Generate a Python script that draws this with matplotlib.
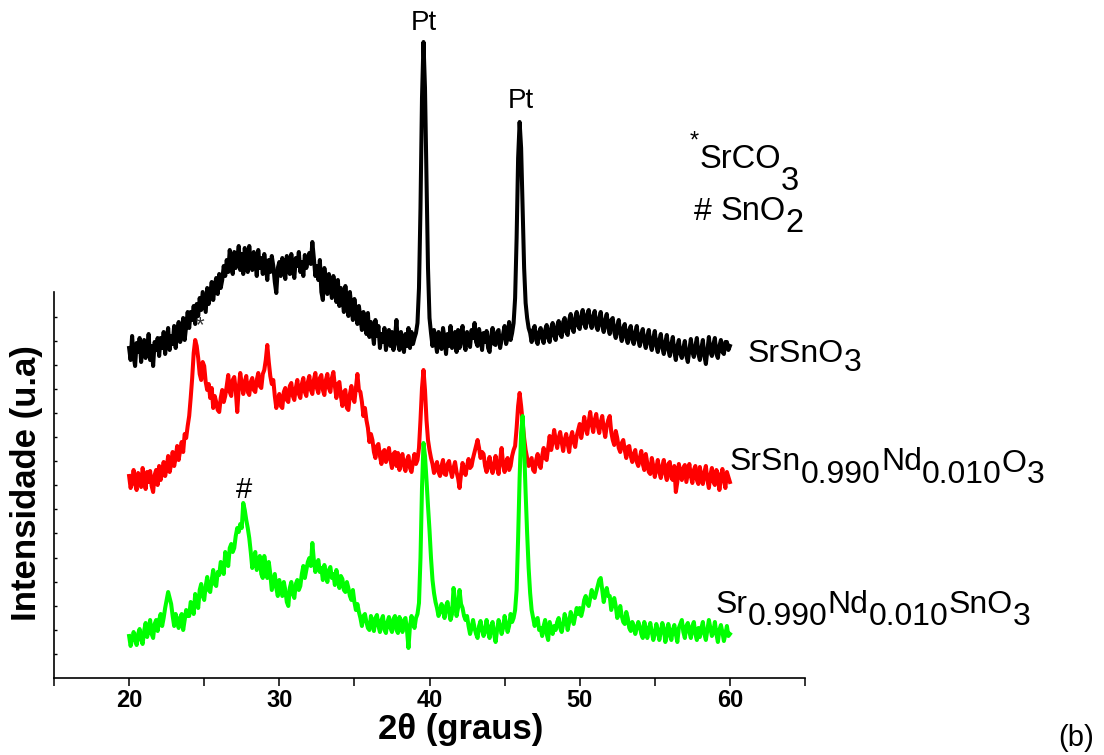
import numpy as np
import matplotlib
matplotlib.use("Agg")
import matplotlib.pyplot as plt

# 2-theta grid (degrees), 0.1 deg step from 20 to 60
two_theta_start = 20.0
two_theta_step = 0.1

# Intensities (a.u., already vertically offset for stacking)
srsno3 = [
    330, 318, 342, 322, 312, 335, 326, 340, 316, 330, 338, 320, 326, 344, 318, 332, 312, 336, 328, 340,
    322, 340, 330, 346, 324, 338, 350, 328, 342, 334, 352, 330, 346, 356, 336, 342, 360, 338, 352, 366,
    350, 366, 358, 372, 354, 374, 362, 380, 368, 386, 376, 366, 390, 374, 384, 396, 378, 392, 400, 384,
    404, 390, 398, 412, 402, 418, 406, 428, 412, 404, 426, 410, 420, 432, 408, 424, 404, 430, 414, 406,
    432, 414, 408, 426, 418, 402, 428, 410, 420, 404, 424, 412, 398, 418, 406, 422, 412, 396, 385, 410,
    416, 402, 420, 410, 399, 422, 414, 404, 424, 408, 400, 420, 412, 426, 406, 416, 402, 423, 410, 418,
    425, 414, 436, 420, 402, 412, 398, 418, 386, 378, 410, 396, 384, 404, 392, 380, 402, 390, 376, 398,
    372, 390, 380, 366, 392, 374, 362, 386, 370, 358, 379, 366, 354, 372, 360, 348, 366, 354, 344, 365,
    341, 356, 346, 334, 358, 342, 352, 330, 344, 336, 350, 328, 342, 348, 332, 346, 328, 340, 358, 334,
    328, 346, 336, 326, 344, 332, 350, 330, 346, 334, 340, 345, 355, 390, 470, 580, 636, 590, 500, 410,
    360, 345, 332, 348, 336, 326, 346, 338, 329, 350, 340, 324, 344, 332, 352, 330, 340, 346, 326, 348,
    330, 344, 352, 334, 328, 346, 338, 331, 348, 340, 355, 336, 332, 349, 340, 328, 345, 336, 347, 330,
    326, 342, 350, 334, 333, 346, 348, 330, 338, 344, 352, 334, 340, 356, 338, 345, 355, 380, 440, 520,
    556, 530, 470, 410, 375, 360, 350, 345, 336, 348, 352, 338, 334, 346, 350, 340, 335, 348, 353, 340,
    336, 350, 355, 342, 338, 352, 357, 344, 341, 356, 360, 346, 343, 358, 364, 350, 346, 360, 366, 352,
    349, 362, 368, 354, 350, 364, 368, 355, 350, 362, 367, 352, 348, 360, 366, 352, 346, 358, 364, 350,
    344, 358, 360, 346, 340, 352, 358, 344, 337, 350, 354, 340, 335, 348, 352, 338, 334, 346, 352, 338,
    332, 344, 349, 336, 330, 342, 348, 334, 328, 340, 347, 332, 326, 338, 344, 330, 324, 336, 343, 328,
    322, 334, 341, 326, 318, 332, 338, 324, 320, 330, 337, 322, 316, 328, 339, 326, 321, 332, 340, 324,
    318, 330, 338, 322, 314, 328, 341, 326, 322, 334, 340, 324, 320, 332, 338, 326, 324, 336, 336, 328,
    332,
]

srsn_nd = [
    202, 190, 196, 208, 194, 188, 205, 199, 191, 210, 200, 189, 206, 196, 207, 192, 186, 203, 208, 193,
    212, 198, 206, 216, 202, 210, 222, 206, 214, 226, 212, 220, 232, 218, 228, 236, 226, 244, 240, 252,
    262, 280, 300, 325, 338, 332, 320, 304, 298, 316, 312, 296, 288, 294, 280, 290, 270, 282, 276, 268,
    266, 280, 288, 276, 282, 292, 303, 286, 282, 298, 301, 288, 266, 290, 305, 294, 284, 296, 302, 286,
    283, 296, 300, 288, 286, 298, 305, 292, 290, 304, 308, 318, 333, 316, 302, 294, 298, 282, 270, 278,
    284, 272, 270, 286, 290, 278, 276, 292, 295, 282, 278, 290, 298, 284, 280, 294, 300, 286, 282, 296,
    302, 288, 284, 298, 305, 290, 285, 300, 303, 288, 283, 298, 304, 290, 286, 300, 306, 292, 280, 294,
    296, 282, 272, 286, 288, 270, 268, 284, 292, 280, 276, 290, 304, 288, 286, 276, 262, 270, 258, 250,
    236, 244, 238, 226, 220, 232, 234, 222, 214, 226, 228, 216, 222, 230, 218, 210, 224, 226, 212, 225,
    208, 220, 224, 212, 207, 218, 222, 210, 206, 216, 224, 214, 218, 230, 258, 290, 308, 288, 258, 238,
    228, 220, 214, 205, 210, 216, 206, 202, 212, 218, 204, 203, 214, 217, 208, 201, 210, 216, 206, 200,
    190, 204, 215, 208, 203, 212, 219, 210, 212, 220, 226, 232, 238, 230, 220, 226, 224, 212, 206, 214,
    221, 210, 205, 214, 222, 210, 204, 218, 230, 214, 206, 216, 220, 208, 212, 222, 228, 232, 250, 272,
    285, 272, 256, 240, 228, 220, 212, 216, 220, 208, 206, 218, 224, 214, 210, 222, 230, 220, 218, 230,
    242, 228, 236, 248, 238, 230, 240, 246, 236, 227, 238, 244, 234, 226, 240, 246, 236, 231, 242, 248,
    254, 240, 248, 261, 252, 244, 256, 266, 254, 246, 258, 264, 252, 245, 256, 262, 250, 241, 252, 258,
    262, 246, 238, 233, 247, 240, 230, 226, 235, 238, 228, 220, 231, 232, 222, 216, 224, 228, 216, 212,
    220, 227, 214, 208, 224, 215, 206, 204, 220, 212, 201, 210, 218, 206, 200, 212, 218, 204, 198, 214,
    216, 200, 198, 212, 186, 196, 214, 206, 198, 210, 213, 196, 205, 214, 202, 195, 208, 212, 198, 194,
    211, 200, 194, 206, 212, 198, 190, 203, 210, 196, 193, 208, 204, 188, 200, 209, 198, 190, 206, 201,
    196,
]

sr_nd_sno3 = [
    42, 32, 38, 46, 40, 33, 44, 49, 38, 34, 47, 55, 41, 48, 58, 44, 40, 54, 58, 47,
    58, 64, 52, 60, 70, 78, 86, 80, 74, 62, 52, 64, 58, 50, 60, 64, 48, 58, 68, 62,
    62, 76, 70, 64, 84, 78, 70, 88, 94, 82, 78, 92, 101, 88, 86, 98, 108, 94, 92, 106,
    103, 116, 110, 104, 126, 118, 112, 130, 134, 126, 130, 142, 150, 146, 154, 150, 175, 168, 158, 150,
    140, 126, 110, 120, 126, 108, 116, 122, 104, 100, 122, 112, 100, 116, 104, 88, 96, 104, 90, 82,
    98, 90, 82, 96, 88, 76, 72, 90, 96, 84, 80, 94, 98, 88, 92, 104, 112, 100, 108, 116,
    120, 112, 135, 118, 106, 114, 118, 106, 110, 98, 113, 104, 96, 108, 111, 100, 104, 93, 108, 100,
    90, 102, 99, 88, 86, 96, 90, 82, 78, 88, 76, 68, 74, 66, 60, 52, 62, 64, 56, 50,
    48, 62, 56, 47, 60, 63, 52, 46, 58, 62, 48, 45, 56, 61, 50, 46, 59, 62, 48, 45,
    61, 54, 46, 58, 60, 48, 30, 52, 62, 56, 50, 60, 64, 75, 120, 190, 235, 222, 198, 172,
    148, 120, 98, 85, 76, 70, 62, 66, 74, 68, 60, 72, 76, 66, 58, 64, 90, 78, 62, 70,
    88, 74, 70, 62, 58, 62, 52, 44, 50, 58, 50, 44, 40, 52, 57, 48, 42, 48, 58, 46,
    40, 52, 56, 44, 36, 48, 58, 52, 44, 50, 62, 54, 46, 52, 64, 56, 60, 68, 88, 140,
    200, 245, 262, 230, 185, 145, 110, 85, 68, 60, 52, 58, 60, 48, 50, 42, 52, 58, 44, 38,
    56, 50, 44, 52, 48, 56, 60, 50, 46, 54, 64, 58, 48, 56, 66, 60, 54, 62, 70, 64,
    70, 62, 68, 78, 82, 75, 72, 80, 88, 82, 80, 86, 92, 98, 100, 88, 76, 84, 90, 82,
    82, 68, 74, 80, 72, 60, 64, 72, 62, 56, 54, 66, 60, 50, 47, 56, 52, 44, 50, 56,
    52, 44, 40, 56, 50, 40, 48, 55, 46, 38, 44, 54, 48, 38, 46, 55, 50, 36, 42, 54,
    46, 38, 48, 53, 44, 36, 50, 54, 58, 46, 40, 52, 55, 46, 40, 52, 56, 44, 38, 50,
    41, 50, 56, 44, 38, 48, 58, 50, 42, 46, 56, 44, 36, 48, 53, 46, 37, 44, 52, 42,
    44,
]

series = [
    (srsno3, "#000000"),
    (srsn_nd, "#ff0000"),
    (sr_nd_sno3, "#00ff00"),
]

x_ticks_major = [20, 30, 40, 50, 60]
x_ticks_minor = [15, 25, 35, 45, 55, 65]

W, H = 1104, 755
fig = plt.figure(figsize=(W / 100, H / 100), dpi=100)
fig.patch.set_facecolor("white")

def px_x(x):
    return x / W

def px_y(y):
    return 1 - y / H

# axes frame in figure pixels: x 54..805, y 30..678 (1 data unit = 1 px vertically)
ax = fig.add_axes([px_x(54), px_y(678), (805 - 54) / W, (678 - 30) / H])
ax.set_xlim(15, 65)
ax.set_ylim(0, 648)

n = len(srsno3)
two_theta = two_theta_start + two_theta_step * np.arange(n)
for values, color in series:
    ax.plot(two_theta, values, color=color, lw=2.9, solid_joinstyle="round",
            clip_on=False)

def idx(t):
    return int(round((t - two_theta_start) / two_theta_step))

for side in ("top", "right"):
    ax.spines[side].set_visible(False)
ax.spines["left"].set_bounds(0, 386)
for side in ("left", "bottom"):
    ax.spines[side].set_linewidth(1.2)

ax.set_xticks(x_ticks_major)
ax.set_xticks(x_ticks_minor, minor=True)
ax.set_xticklabels([str(t) for t in x_ticks_major], fontsize=17,
                   fontfamily="Liberation Sans", fontweight="bold")
ax.tick_params(axis="x", which="both", direction="out", length=5.5, width=1.1, pad=2.5)

ax.set_yticks(np.arange(1, 16) * 24.1)
ax.set_yticklabels([])
ax.tick_params(axis="y", which="both", direction="in", length=2.5, width=1.0)

# axis titles
fig.text(px_x(461), px_y(739), "2\u03b8 (graus)", fontfamily="Liberation Sans",
         fontweight="bold", fontsize=25, ha="center", va="baseline")
fig.text(px_x(27), px_y(483), "Intensidade (u.a)", fontfamily="Liberation Sans",
         fontweight="bold", fontsize=25, ha="center", va="center", rotation=90)

# peak markers
ax.text(39.6, srsno3[idx(39.6)] + 6, "Pt", fontfamily="Liberation Sans", fontsize=20,
        ha="center", va="bottom")
ax.text(46.05, srsno3[idx(46.0)] + 8, "Pt", fontfamily="Liberation Sans", fontsize=20,
        ha="center", va="bottom")
ax.text(24.7, 352, "*", fontfamily="Liberation Sans", fontsize=16, color="#333333",
        ha="center", va="center")
ax.text(27.65, sr_nd_sno3[idx(27.6)] + 13, "#", fontfamily="Liberation Sans", fontsize=21,
        ha="center", va="center")

fig.canvas.draw()
renderer = fig.canvas.get_renderer()

def formula(x0, baseline, parts, size):
    """Draw text pieces left to right; each piece is (text, downward offset px, size)."""
    x = x0
    for txt, dy, sz in parts:
        t = fig.text(px_x(x), px_y(baseline + dy), txt, fontfamily="Liberation Sans",
                     fontsize=sz if sz else size, ha="left", va="baseline")
        bb = t.get_window_extent(renderer)
        x += bb.width

fs = 23
formula(748, 362, [("SrSnO", 0, None), ("3", 9, None)], fs)
formula(730, 470, [("SrSn", 0, None), ("0.990", 13, None), ("Nd", 0, None),
                   ("0.010", 13, None), ("O", 2, None), ("3", 13, None)], fs)
formula(716, 613, [("Sr", 0, None), ("0.990", 12, None), ("Nd", 0, None),
                   ("0.010", 12, None), ("SnO", 0, None), ("3", 12, None)], fs)

# phase key
formula(690, 168, [("*", -20, 17), ("SrCO", 0, 23.5), ("3", 22, 23.5)], 23.5)
formula(694, 220, [("# ", 0, 23), ("SnO", 0, 23.5), ("2", 12, 23.5)], 23.5)

fig.text(px_x(1058), px_y(746), "(b)", fontfamily="Liberation Sans", fontsize=21,
         ha="left", va="baseline")

fig.savefig("out.png", dpi=100, facecolor="white")
